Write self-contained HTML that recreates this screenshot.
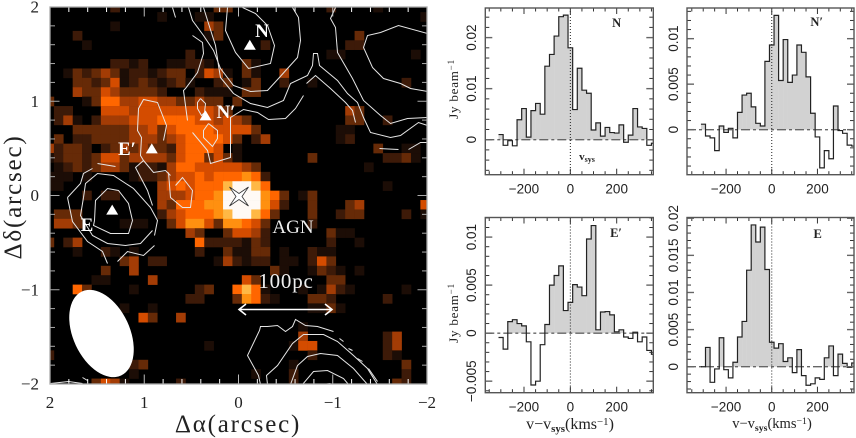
<!DOCTYPE html>
<html lang="en">
<head>
<meta charset="utf-8">
<title>Molecular gas map and spectra</title>
<style>
html,body{margin:0;padding:0;background:#fff;width:856px;height:438px;overflow:hidden}
svg{display:block}
text{font-family:"Liberation Serif",serif;fill:#222}
</style>
</head>
<body>
<svg id="figure" xmlns="http://www.w3.org/2000/svg" width="856" height="438" viewBox="0 0 856 438">
  <defs>
    <clipPath id="map-clip"><rect x="50" y="7" width="377" height="377"/></clipPath>
  </defs>
</svg>
<script>
// ---------- Map data ----------
const heatLevels = [
[0,0,0,0,0,0,0,2,0,0,0,0,0,0,0,0,0,0,3,3,0,0,0,0,0,0,0,0,0,0,2,0,0,0,0,1,0,0,0,0,0],
[0,0,0,0,0,0,0,0,0,0,0,0,1,0,0,0,1,1,0,0,0,0,0,0,0,0,0,0,0,0,0,0,0,0,0,0,0,0,0,0,1],
[0,0,0,0,0,0,0,1,0,0,0,0,0,0,0,0,0,4,3,0,0,0,0,0,0,0,0,0,0,0,0,0,0,0,0,0,0,0,0,0,0],
[0,0,0,2,0,0,0,0,0,0,0,0,0,0,0,0,0,1,3,0,0,0,0,0,0,0,0,0,0,0,0,0,0,3,0,0,0,0,0,0,0],
[0,0,0,0,1,0,0,0,0,0,0,0,0,0,0,0,0,0,0,0,0,0,0,2,0,0,0,0,0,0,0,0,2,2,0,0,0,0,0,0,0],
[0,0,0,0,0,0,0,0,0,0,0,0,0,0,0,2,0,0,0,0,0,0,0,0,0,0,0,0,0,0,1,1,0,0,0,0,0,0,0,1,0],
[0,0,0,0,0,0,0,2,2,1,2,0,0,1,1,2,2,1,0,0,0,3,1,0,0,0,0,0,0,0,0,0,0,0,0,0,0,0,0,0,0],
[0,0,1,3,2,3,4,3,1,2,2,1,2,3,3,0,2,5,4,1,0,3,1,0,0,4,0,0,0,0,0,0,0,0,0,0,0,0,0,0,0],
[0,0,0,3,3,2,3,5,1,2,3,2,1,2,3,1,0,0,2,3,0,1,3,0,0,2,0,0,1,0,0,0,0,0,0,0,0,0,2,0,0],
[0,0,0,4,3,3,5,4,3,3,3,3,2,0,0,0,2,1,1,1,0,3,3,0,0,0,0,0,0,0,0,0,0,0,0,0,0,0,0,0,0],
[3,0,0,0,1,3,6,6,4,4,5,5,4,4,3,3,4,3,3,0,3,0,0,0,0,0,0,0,0,0,0,0,0,0,0,0,0,0,0,0,0],
[0,2,2,0,0,0,5,5,5,4,5,5,5,5,5,5,5,5,4,3,0,0,0,0,0,0,0,0,0,0,0,0,4,3,0,0,0,0,0,0,0],
[0,2,4,1,0,2,4,4,4,5,5,5,6,6,6,6,5,5,4,5,4,3,0,0,0,0,0,0,0,0,0,0,3,3,0,0,2,0,0,0,0],
[0,0,0,3,3,3,3,3,3,4,4,5,3,5,6,6,6,6,5,5,5,5,3,0,0,0,0,0,0,0,0,1,1,0,0,0,0,0,0,0,0],
[0,3,0,2,2,3,3,3,3,4,4,4,3,4,5,6,6,6,6,5,3,0,2,4,0,0,0,0,0,0,0,1,2,0,0,0,0,0,0,0,0],
[4,2,3,3,2,0,2,3,4,3,4,3,3,2,5,6,6,6,5,0,1,0,0,0,0,0,0,0,0,0,0,0,0,0,0,3,0,0,1,1,0],
[1,2,3,3,2,3,5,5,3,4,4,4,4,3,5,6,6,3,5,3,1,0,0,0,0,0,0,0,3,0,0,0,0,0,0,0,2,2,3,1,0],
[0,1,2,3,2,3,4,4,3,1,2,2,1,4,6,6,5,5,5,5,5,4,3,0,0,0,0,0,0,0,0,0,0,0,1,0,0,0,0,0,0],
[1,1,1,0,1,0,0,0,0,1,2,2,3,4,5,5,6,5,6,6,6,7,6,2,0,0,0,0,0,0,0,0,0,0,0,0,0,0,0,0,0],
[1,1,0,0,0,0,0,0,0,0,0,0,4,5,6,5,6,6,6,8,9,9,8,6,0,0,0,0,0,0,0,0,0,0,0,0,1,0,0,0,0],
[0,0,0,0,2,0,2,2,0,0,0,0,4,4,4,5,6,6,7,9,9,9,9,7,6,3,0,1,3,0,0,0,0,0,0,0,0,0,0,0,0],
[0,0,0,0,0,0,0,0,0,0,0,0,4,3,6,6,6,7,7,9,9,9,9,7,5,2,0,0,3,0,0,0,3,4,0,0,0,0,0,0,5],
[0,3,3,3,0,0,0,0,0,0,0,0,2,4,5,6,6,6,7,8,9,9,8,6,3,0,0,0,3,0,0,2,3,3,0,0,0,0,2,0,1],
[0,4,4,3,0,0,0,0,1,1,1,0,0,3,5,7,7,5,3,7,7,6,5,3,0,0,0,0,2,0,0,0,0,0,0,0,0,0,0,0,0],
[0,0,0,0,0,0,0,0,0,0,0,0,0,0,0,4,3,0,0,3,5,5,4,2,0,0,0,0,0,0,3,1,1,0,0,0,0,0,0,0,0],
[3,0,2,4,0,0,0,0,0,0,0,0,0,0,0,0,6,2,2,2,2,1,3,2,0,0,0,0,0,0,2,0,0,1,0,0,0,0,0,0,0],
[0,0,0,1,0,0,2,1,0,1,0,0,0,0,0,0,2,0,0,3,1,1,3,3,0,1,0,0,2,1,1,0,0,0,0,0,0,0,0,0,0],
[0,0,0,0,0,0,0,0,3,4,0,2,2,0,0,0,0,0,1,4,2,1,2,2,0,1,1,0,2,5,3,0,0,0,0,0,0,0,0,0,0],
[0,0,0,0,0,0,3,0,0,4,0,0,0,0,0,0,0,0,0,0,0,0,0,0,3,1,0,0,1,3,2,1,0,1,0,0,0,0,0,0,0],
[0,0,0,0,0,1,1,0,0,0,0,4,0,0,0,0,0,0,0,0,0,5,3,0,0,0,0,0,0,0,3,3,0,0,0,0,0,0,0,0,0],
[0,0,0,6,3,0,0,0,0,1,0,0,0,0,0,0,2,3,0,0,6,8,6,1,0,0,0,1,0,1,4,2,1,0,0,0,0,0,1,0,0],
[0,0,0,0,0,0,0,0,0,0,0,0,0,0,0,2,2,0,0,0,3,7,6,2,1,0,0,0,3,3,2,0,0,0,0,0,2,0,0,0,0],
[0,0,0,0,0,0,0,0,1,0,0,1,0,0,0,0,0,0,0,0,0,0,0,0,0,0,0,0,1,1,3,1,0,0,0,0,0,0,0,0,0],
[0,0,0,0,0,0,0,0,0,0,5,3,0,0,4,0,0,0,0,0,0,0,0,0,0,0,0,0,0,0,0,0,0,0,0,0,0,0,0,0,0],
[0,0,0,0,0,0,0,0,0,0,0,0,0,0,0,0,0,0,0,0,0,0,0,0,0,0,0,1,0,0,0,0,0,0,0,0,0,0,0,0,0],
[0,0,0,0,0,0,0,0,0,0,0,0,0,0,0,0,0,0,0,0,0,0,0,0,0,0,0,4,0,0,0,0,0,0,0,0,2,4,0,0,0],
[0,0,0,0,0,0,0,0,0,0,0,0,0,0,0,0,0,1,0,0,0,0,0,0,0,0,1,5,5,0,0,0,0,0,0,0,2,4,0,0,0],
[2,0,0,0,0,0,0,0,0,0,0,0,0,0,0,0,0,0,0,0,0,0,0,0,0,0,0,0,2,0,0,0,0,0,0,0,2,1,0,0,0],
[0,0,0,0,0,0,0,0,0,2,3,0,0,0,0,0,0,0,0,0,0,0,0,0,0,0,1,0,0,0,0,0,0,0,0,0,0,0,3,0,0],
[0,0,0,0,0,0,0,0,0,1,0,0,0,0,0,0,0,0,0,0,0,0,1,0,0,0,2,0,0,0,0,0,0,0,0,0,0,0,2,0,0],
[0,0,0,0,0,3,5,4,1,0,0,0,0,0,2,0,0,0,0,0,0,0,0,0,0,0,2,0,0,0,0,0,0,0,0,0,0,3,2,0,0]
];
const heatPalette = ["#000000","#1c0d06","#3d1a08","#662a07","#a33c05","#d44c00","#ff6600","#ff9010","#ffb845","#fffaf5"];

// Contour vertices: [east, north] offsets from the AGN, in units of contourUnit arcsec.
const contourUnit = 4 / 377;
const contourLines = [
[[50,188],[46,175],[35,160],[25,145],[18,127],[5,110],[-12,104],[-29,105],[-40,117],[-49,127],[-59,138],[-62,155],[-60,178],[-54,188]],
[[11,188],[13,165],[3,143],[-10,127],[-32,132],[-36,150],[-29,170],[-17,182],[-4,188]],
[[35,188],[30,172],[23,150],[20,130],[18,118],[5,102],[-12,92],[-29,88],[-45,95],[-52,112],[-69,120],[-74,130],[-75,142],[-79,142],[-81,130],[-99,115],[-109,102],[-119,93],[-125,78],[-132,63],[-152,58],[-162,60],[-180,73],[-189,70]],
[[46,63],[31,45],[28,32],[18,35],[8,38],[8,78],[-5,86],[-19,83],[-30,76],[-47,77],[-57,87],[-65,100]],
[[-68,112],[-77,120],[-92,107],[-107,93],[-114,85],[-117,73]],
[[-97,188],[-92,177],[-97,168],[-99,143],[-114,117],[-125,95],[-142,80],[-152,72],[-169,77],[-189,78]],
[[-189,162],[-160,170],[-142,163],[-129,160],[-125,148],[-134,128],[-145,117],[-162,112],[-172,107],[-189,104]],
[[-141,47],[-160,46]],
[[-170,46],[-182,53],[-189,53]],
[[66,188],[63,178]],
[[46,160],[36,153],[35,142],[41,123],[53,107],[55,105],[51,75]],
[[38,97],[33,92],[34,83],[37,80],[41,87],[41,93],[38,97]],
[[30,72],[21,65],[21,57],[26,49],[35,58],[35,65],[30,72]],
[[75,55],[72,70],[81,93],[95,96],[100,87],[101,65],[97,58],[98,40],[95,35],[103,28],[91,5],[86,-10]],
[[95,35],[85,23],[73,25],[68,20]],
[[70,23],[68,-2],[56,-12],[48,-12],[46,5],[56,18],[63,10]],
[[141,32],[123,29]],
[[171,-2],[158,12],[155,22],[146,27]],
[[155,-2],[153,12],[141,22],[125,20],[105,7],[88,-12],[81,-25],[84,-40]],
[[84,-50],[95,-60],[111,-56],[121,-66]],
[[131,-68],[136,-56],[151,-46],[166,-26],[171,-2]],
[[144,-25],[143,-5],[131,7],[120,5],[110,-8],[106,-25],[110,-38],[128,-38],[145,-30],[144,-25]],
[[155,-2],[158,-20],[146,-40],[131,-48],[113,-50],[98,-48],[86,-35]],
[[188,-188],[170,-186],[156,-188]],
[[156,-182],[151,-185]],
[[-22,-189],[-20,-180],[-9,-160],[-21,-135],[-22,-131],[-29,-131],[-39,-130],[-47,-136],[-54,-131],[-57,-124],[-67,-130],[-79,-131],[-95,-136]],
[[-29,-189],[-28,-180],[-39,-170],[-54,-148],[-65,-139],[-85,-139],[-99,-146],[-115,-160],[-129,-173],[-139,-189]],
[[-52,-189],[-59,-170],[-69,-161],[-82,-158],[-99,-160],[-115,-173],[-129,-189]],
[[-64,-189],[-75,-176],[-89,-175],[-105,-183],[-110,-189]],
[[-84,-189],[-92,-188]],
[[-101,-143],[-105,-146]],
[[-110,-153],[-114,-155]],
[[-119,-163],[-124,-166]],
[[-130,-173],[-139,-186]]
];

// Source positions in arcsec [dRA, dDec]
const sourcePositions = [[-0.12,1.6],[0.35,0.85],[0.92,0.5],[1.34,-0.15]];
const mapTicks = [2,1,0,-1,-2];

// ---------- Spectrum data ----------
const channelStart = -310;
const channelWidth = 20;
const spectrumN = [0.001,-0.0011,-0.0002,-0.0012,0.0039,0.0061,0.0005,0.0057,0.0071,0.005,0.0144,0.0167,0.0203,0.0241,0.0244,0.018,0.0059,0.014,0.0097,0.0091,0.0019,0.0033,0.0007,0.0024,0.0014,0.0013,0.0029,-0.0005,0.0009,0.0061,0.0025,0.0022,-0.0011,-0.0007];
const spectrumNp = [0.0006,-0.0007,-0.0009,-0.0023,0.0004,-0.0003,0.00015,-0.0009,0.0019,0.0038,0.004,0.0025,0.0007,0.0004,0.0075,0.0093,0.01256,0.0054,0.0099,0.0052,0.006,0.0093,0.0085,0.0058,0.0018,-0.0008,-0.0042,-0.0023,-0.0032,0.0026,-0.0001,-0.0004,-0.0017,-0.0018];
const spectrumEp = [-0.00045,-0.00166,0.0012,0.0014,0.001,0.00076,-0.0009,-0.0054,-0.005,-0.0012,0.0009,0.005,0.006,0.007,0.00235,0.0032,0.00505,0.0048,0.0039,0.0098,0.0112,0.00035,0.0022,0.00225,0.0019,0.00014,0.00035,-0.0004,-0.00055,0.0001,-0.0009,-0.0004,-0.0018,-0.0022];
const spectrumE = [0,0.0026,-0.0021,-0.0003,0.0039,-0.0004,-0.0015,0.0006,0.004,0.0061,0.013,0.0191,0.0168,0.0188,0.0131,0.0033,0.0025,0.0031,0.0007,0.0012,-0.0008,0.0023,-0.0012,-0.0025,-0.0023,-0.0015,-0.0017,0.0012,0.0028,-0.0012,0.0017,0.00045,-0.0001,0.0005];
const velocityMajorTicks = [-200,0,200];
const ticksN = [0,0.01,0.02];
const ticksNp = [0,0.005,0.01];
const ticksEp = [-0.005,0,0.005,0.01];
const ticksE = [0,0.005,0.01,0.015,0.02];

const svg = document.getElementById('figure');
const NS = 'http://www.w3.org/2000/svg';
function make(tag, attrs, parent, txt) {
  const el = document.createElementNS(NS, tag);
  for (const k in attrs) el.setAttribute(k, attrs[k]);
  if (txt !== undefined) el.textContent = txt;
  (parent || svg).appendChild(el);
  return el;
}
function minusText(v) { return String(v).replace('-', '\u2212'); }

// ---------- Map axes ----------
const mapLeft = 50, mapRight = 427, mapTop = 7, mapBottom = 384;
function mapX(a) { return (mapLeft + mapRight) / 2 - a * (mapRight - mapLeft) / 4; }
function mapY(d) { return (mapTop + mapBottom) / 2 - d * (mapBottom - mapTop) / 4; }

const mapGroup = make('g', {'clip-path':'url(#map-clip)'});


make('rect', {x:mapLeft,y:mapTop,width:377,height:377,fill:'#000'}, mapGroup);

const cellSize = 0.0997;
const gridEast = 2.0584, gridNorth = 2.0456;
heatLevels.forEach(function (row, r) {
  row.forEach(function (level, c) {
    if (!level) return;
    const x0 = mapX(gridEast - c * cellSize);
    const y0 = mapY(gridNorth - r * cellSize);
    const x1 = mapX(gridEast - (c + 1) * cellSize);
    const y1 = mapY(gridNorth - (r + 1) * cellSize);
    const cell = make('rect', {x:x0,y:y0,width:x1-x0+0.3,height:y1-y0+0.3,fill:heatPalette[level]}, mapGroup);
    
    
  });
});

contourLines.forEach(function (line) {
  const pts = line.map(function (p) {
    return mapX(p[0] * contourUnit).toFixed(1) + ',' + mapY(p[1] * contourUnit).toFixed(1);
  }).join(' ');
  const contour = make('polyline', {points:pts,fill:'none',stroke:'#e6e6e6','stroke-width':1}, mapGroup);
  
  
});

// beam
const beam = make('ellipse', {cx:101.5,cy:333.5,rx:28.3,ry:46.3,fill:'#fff',transform:'rotate(-25 101.5 333.5)'});



// map ticks
for (let i = -10; i <= 10; i++) {
  const v = i * 0.2;
  const major = i % 5 === 0;
  const len = major ? 9.5 : 5;
  const tb = make('line', {x1:mapX(v),x2:mapX(v),y1:mapBottom,y2:mapBottom-len,stroke:major?'#bbb':'#fff','stroke-width':1});
  
  
  const tt = make('line', {x1:mapX(v),x2:mapX(v),y1:mapTop,y2:mapTop+len,stroke:major?'#bbb':'#fff','stroke-width':1});
  
  
  const tl = make('line', {x1:mapLeft,x2:mapLeft+len,y1:mapY(v),y2:mapY(v),stroke:'#aaa','stroke-width':1});
  
  
  const tr = make('line', {x1:mapRight,x2:mapRight-len,y1:mapY(v),y2:mapY(v),stroke:'#aaa','stroke-width':1});
  
  
}
const mapFrame = make('rect', {x:mapLeft,y:mapTop,width:377,height:377,fill:'none',stroke:'#aaa','stroke-width':1.3});



mapTicks.forEach(function (v) {
  const xl = make('text', {x:mapX(v),y:408,'text-anchor':'middle','font-size':17}, svg, minusText(v));
  
  
  const yl = make('text', {x:39,y:mapY(v)+5.5,'text-anchor':'end','font-size':17}, svg, minusText(v));
  
  
});

const xTitle = make('text', {x:238,y:432,'text-anchor':'middle','font-size':25,'letter-spacing':'1.8'}, svg, '\u0394\u03b1(arcsec)');


const yTitle = make('text', {x:0,y:0,'text-anchor':'middle','font-size':25,'letter-spacing':'1.8',transform:'translate(21 197) rotate(-90)'}, svg, '\u0394\u03b4(arcsec)');



// source markers
sourcePositions.forEach(function (p) {
  const x = mapX(p[0]), y = mapY(p[1]);
  const tri = make('polygon', {points:(x-6)+','+(y+5)+' '+(x+6)+','+(y+5)+' '+x+','+(y-5),fill:'#fff'});
  
  
});

// labels on the map
const boldLabelStyle = {'font-size':19,'font-weight':'bold','text-anchor':'middle',style:'fill:#fff'};
const labN = make('text', Object.assign({x:262,y:37}, boldLabelStyle), svg, 'N');


const labNp = make('text', Object.assign({x:226,y:118}, boldLabelStyle), svg, 'N\u2032');


const labEp = make('text', Object.assign({x:127,y:155}, boldLabelStyle), svg, 'E\u2032');


const labE = make('text', Object.assign({x:87,y:231}, boldLabelStyle), svg, 'E');


const labAgn = make('text', {x:293,y:233,'text-anchor':'middle','font-size':19,style:'fill:#eee'}, svg, 'AGN');


const labScale = make('text', {x:286,y:288,'text-anchor':'middle','font-size':21,'letter-spacing':'0.8',style:'fill:#eee'}, svg, '100pc');



const scaleBar = make('path', {d:'M239 309.5H332M246 304L239 309.5L246 315M325 304L332 309.5L325 315',fill:'none',stroke:'#fff','stroke-width':1.6});



const agnStar = make('polygon', {points:'229.5,187 239,193.5 248.5,187 242,196.5 248.5,206 239,199.5 229.5,206 236,196.5',fill:'#fff',stroke:'#333','stroke-width':0.8});



// ---------- Spectrum panels ----------
function drawPanel(name, values, yTicks, minorStep, box, label, labelPos, yLabelX) {
  const w = box.right - box.left, h = box.bottom - box.top;
  const sx = function (v) { return box.left + (v - box.vMin) / (box.vMax - box.vMin) * w; };
  const sy = function (f) { return box.bottom - (f - box.fMin) / (box.fMax - box.fMin) * h; };

  const clipId = 'clip-' + name;
  const clip = make('clipPath', {id:clipId});
  make('rect', {x:box.left,y:box.top,width:w,height:h}, clip);

  const g = make('g', {'clip-path':'url(#' + clipId + ')'});
  
  

  values.forEach(function (val, i) {
    if (val <= 0) return;
    const v0 = channelStart + i * channelWidth;
    const bar = make('rect', {x:sx(v0),y:sy(val),width:sx(v0+channelWidth)-sx(v0)+0.2,height:sy(0)-sy(val),fill:'#d2d2d2'}, g);
    
    
  });
  const zero = make('line', {x1:box.left,x2:box.right,y1:sy(0),y2:sy(0),stroke:'#666','stroke-width':1.4,'stroke-dasharray':'9 3 3 3'}, g);
  
  
  const vsys = make('line', {x1:sx(0),x2:sx(0),y1:box.top,y2:box.bottom,stroke:'#222','stroke-width':1,'stroke-dasharray':'1 2'}, g);
  
  

  let d = '';
  values.forEach(function (val, i) {
    const v0 = channelStart + i * channelWidth;
    d += (i ? 'L' : 'M') + sx(v0).toFixed(2) + ' ' + sy(val).toFixed(2) + 'L' + sx(v0 + channelWidth).toFixed(2) + ' ' + sy(val).toFixed(2);
  });
  const step = make('path', {d:d,fill:'none',stroke:'#222','stroke-width':1.2}, g);
  
  

  for (let v = -350; v <= 350; v += 50) {
    const major = velocityMajorTicks.indexOf(v) >= 0;
    const len = major ? 6 : 3.5;
    const t1 = make('line', {x1:sx(v),x2:sx(v),y1:box.bottom,y2:box.bottom-len,stroke:'#333','stroke-width':1});
    
    
    const t2 = make('line', {x1:sx(v),x2:sx(v),y1:box.top,y2:box.top+len,stroke:'#333','stroke-width':1});
    
    
  }
  const nLo = Math.ceil(box.fMin / minorStep), nHi = Math.floor(box.fMax / minorStep);
  for (let n = nLo; n <= nHi; n++) {
    const f = n * minorStep;
    const major = yTicks.some(function (t) { return Math.abs(t - f) < 1e-6; });
    const len = major ? 7 : 4;
    const col = major ? '#666' : '#333';
    const sw = major ? 1.4 : 1;
    const t3 = make('line', {x1:box.left,x2:box.left+len,y1:sy(f),y2:sy(f),stroke:col,'stroke-width':sw});
    
    
    const t4 = make('line', {x1:box.right,x2:box.right-len,y1:sy(f),y2:sy(f),stroke:col,'stroke-width':sw});
    
    
  }
  const frame = make('rect', {x:box.left,y:box.top,width:w,height:h,fill:'none',stroke:'#555','stroke-width':1.4});
  
  

  velocityMajorTicks.forEach(function (v) {
    const lb = make('text', {x:sx(v),y:box.bottom+19,'text-anchor':'middle','font-size':13.5,style:'font-family:\'Liberation Sans\',sans-serif'}, svg, minusText(v));
    
    
  });
  yTicks.forEach(function (f) {
    const lb = make('text', {x:0,y:0,'text-anchor':'middle','font-size':13.5,style:'font-family:\'Liberation Sans\',sans-serif',transform:'translate(' + yLabelX + ' ' + sy(f) + ') rotate(-90)'}, svg, minusText(f));
    
    
  });
  const pl = make('text', {x:labelPos[0],y:labelPos[1],'text-anchor':'middle','font-size':12.5,'font-weight':'bold'}, svg, label);
  
  
}

const panelTopY = {top:8,bottom:174.7};
const panelLowY = {top:217.5,bottom:392.7};
drawPanel('n', spectrumN, ticksN, 0.002,
  {left:485.3,right:653.3,top:panelTopY.top,bottom:panelTopY.bottom,vMin:-367,vMax:358,fMin:-0.00686,fMax:0.0258},
  'N', [616.7,27], 476);
drawPanel('n-prime', spectrumNp, ticksNp, 0.001,
  {left:687,right:854,top:panelTopY.top,bottom:panelTopY.bottom,vMin:-371,vMax:360,fMin:-0.00495,fMax:0.01337},
  'N\u2032', [816.7,26], 678);
drawPanel('e-prime', spectrumEp, ticksEp, 0.001,
  {left:485.3,right:653.3,top:panelLowY.top,bottom:panelLowY.bottom,vMin:-367,vMax:358,fMin:-0.0062,fMax:0.01204},
  'E\u2032', [616,237], 476);
drawPanel('e', spectrumE, ticksE, 0.001,
  {left:687,right:854,top:panelLowY.top,bottom:panelLowY.bottom,vMin:-371,vMax:360,fMin:-0.0035,fMax:0.0201},
  'E', [817.7,238], 678);

function fluxTitle(cy, name) {
  const t = make('text', {x:0,y:0,'text-anchor':'middle','font-size':13,'letter-spacing':'0.8',transform:'translate(458 ' + cy + ') rotate(-90)'});
  
  
  make('tspan', {}, t, 'Jy beam');
  make('tspan', {dy:-4,'font-size':9}, t, '\u22121');
}
fluxTitle(89, 'flux-axis-title-top');
fluxTitle(313, 'flux-axis-title-bottom');

function velTitle(cx, baseline, size, name) {
  const t = make('text', {x:cx,y:baseline,'text-anchor':'middle','font-size':size});
  
  
  make('tspan', {}, t, 'v\u2212v');
  make('tspan', {dy:3,'font-size':size*0.68,'font-weight':'bold'}, t, 'sys');
  make('tspan', {dy:-3}, t, '(kms');
  make('tspan', {dy:-4,'font-size':size*0.68}, t, '\u22121');
  make('tspan', {dy:4}, t, ')');
}
velTitle(570, 429, 16, 'velocity-axis-title-left');
velTitle(772, 428, 14.5, 'velocity-axis-title-right');

const vs = make('text', {x:587,y:160,'text-anchor':'middle','font-size':11,'font-weight':'bold'});


make('tspan', {}, vs, 'v');
make('tspan', {dy:2,'font-size':8}, vs, 'sys');
</script>
</body>
</html>
